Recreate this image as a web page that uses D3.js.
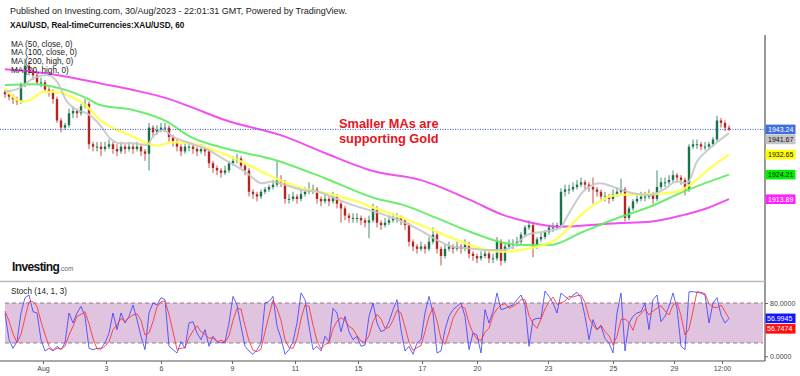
<!DOCTYPE html>
<html>
<head>
<meta charset="utf-8">
<script src="https://cdn.jsdelivr.net/npm/d3@7"></script>
<style>
  body { margin: 0; background: #fff; }
  svg { display: block; font-family: Arial, "Liberation Sans", sans-serif; }
</style>
</head>
<body>
<div id="chart"></div>
<script>
// ── Data (XAU/USD, 60 min, ~4 px per candle) ─────────────────────────────────
const FIRST_OPEN = 1959;

const closes = [
  1958,1957,1956,1955,1962,1970,1968,1966,1963,1963,
  1960,1959,1956,1947,1944,1945,1950,1951,1950,1953,
  1954,1937,1936,1936,1935,1936,1937,1935,1934,1936,
  1935,1936,1935,1936,1934,1933,1944,1942,1943,1944,
  1944,1940,1938,1936,1934,1936,1936,1935,1934,1935,
  1934,1929,1927,1926,1925,1926,1929,1930,1931,1928,
  1926,1917,1916,1915,1917,1918,1919,1920,1922,1921,
  1914,1914,1915,1914,1916,1917,1918,1918,1914,1913,
  1914,1913,1915,1912,1910,1907,1906,1906,1906,1905,
  1904,1905,1910,1904,1903,1904,1905,1906,1906,1905,
  1903,1896,1894,1893,1894,1893,1896,1899,1893,1890,
  1893,1894,1893,1894,1893,1895,1891,1890,1889,1890,
  1891,1889,1889,1896,1888,1894,1895,1895,1896,1899,
  1902,1903,1894,1897,1898,1900,1902,1902,1903,1917,
  1918,1918,1919,1920,1921,1920,1919,1918,1917,1915,
  1915,1914,1916,1917,1918,1906,1910,1913,1914,1915,
  1915,1916,1914,1919,1921,1921,1922,1924,1923,1922,
  1918,1936,1937,1937,1936,1936,1937,1939,1947,1946,
  1944,1943.24
];

const highs = [
  1960,1959,1958,1957,1963,1973,1972,1969,1967,1965,
  1964,1961,1960,1957,1948,1946,1952,1953,1952,1954,
  1956,1955,1938,1938,1938,1938,1939,1938,1937,1938,
  1937,1938,1937,1938,1937,1935,1946,1945,1945,1946,
  1946,1945,1941,1939,1937,1938,1938,1937,1936,1937,
  1936,1935,1930,1928,1927,1928,1930,1932,1933,1932,
  1929,1927,1918,1917,1918,1919,1920,1922,1930,1924,
  1922,1916,1917,1916,1918,1919,1921,1920,1919,1915,
  1916,1915,1917,1916,1913,1911,1908,1908,1908,1907,
  1906,1907,1912,1911,1905,1906,1907,1908,1908,1907,
  1906,1904,1897,1895,1896,1895,1898,1902,1900,1894,
  1895,1896,1895,1896,1895,1897,1896,1892,1891,1892,
  1893,1892,1891,1898,1897,1895,1897,1897,1898,1900,
  1903,1905,1904,1898,1900,1901,1903,1904,1904,1918.5,
  1920,1920,1921,1922,1923,1922,1921,1923,1919,1918,
  1917,1916,1918,1919,1922.5,1919,1911,1914,1916,1917,
  1917,1918,1917,1926,1923,1923,1924,1926,1925,1924,
  1923,1937,1939,1939,1938,1938,1938,1940,1949,1948,
  1947,1945
];

const lows = [
  1956.5,1955.5,1954,1953.5,1954,1961,1966,1964,1962,1961,
  1959,1957,1954,1946,1942,1943,1944,1948,1948,1949,
  1952,1935,1934,1934,1932,1934,1935,1933,1932,1933,
  1933,1934,1933,1934,1932,1930,1926,1940,1941,1942,
  1942,1938,1936,1934,1932,1933,1934,1933,1932,1933,
  1932,1927,1925,1924,1923,1924,1925,1928,1929,1927,
  1924,1915,1914,1913,1914,1916,1917,1918,1919,1919,
  1912,1912,1913,1912,1913,1915,1916,1916,1912,1911,
  1912,1911,1912,1910,1904,1905,1904,1904,1904,1903,
  1902,1897.5,1904,1902,1901,1902,1903,1904,1904,1903,
  1901,1894,1892,1891,1892,1891,1892,1895,1891,1886,
  1889,1892,1891,1892,1891,1892,1889,1888,1887,1888,
  1889,1887,1887,1888,1886,1887,1893,1893,1894,1895,
  1898,1901,1889.5,1893,1896,1897,1899,1900,1901,1902,
  1915,1916,1917,1918,1919,1918,1917,1912,1915,1913,
  1913,1912,1913,1915,1916,1904.5,1905,1909,1912,1913,
  1913,1914,1912,1913,1918,1919,1920,1921,1921,1920,
  1915.5,1917,1935,1935,1934.5,1934.5,1935,1936,1938,1944,
  1942.5,1942.5
];

// moving averages as [candle index, price]
const ma20 = [
  [0,1959.1],[3.75,1960.7],[7,1964.7],[10.5,1966.1],[13,1963.3],[15.5,1954.9],
  [18,1951.4],[20.5,1950.0],[23.75,1945.1],[26.25,1939.5],[28.75,1937.4],[32,1937.4],
  [35.5,1936.7],[37,1940.2],[39.5,1943.0],[42,1940.2],[46.25,1937.4],[50,1935.3],
  [55,1930.4],[60,1925.5],[64.25,1920.6],[66.75,1921.3],[70,1919.9],[74.25,1917.8],
  [78.25,1917.0],[82.5,1914.3],[86.75,1911.5],[92.5,1908.6],[96.25,1906.5],[99.5,1904.4],
  [103.75,1900.9],[108,1896.7],[112,1893.9],[116.25,1893.2],[120.5,1892.5],[124.5,1892.5],
  [127,1893.9],[130.5,1898.8],[134.5,1900.2],[138.75,1901.7],[140.5,1906.5],[144.5,1917.0],
  [148.75,1920.6],[153,1918.5],[157,1916.4],[161.25,1915.7],[164.5,1917.8],[168,1921.3],
  [170.5,1920.6],[173,1929.7],[176.25,1935.3],[181,1941.67]
];

const ma50 = [
  [0,1960.5],[4.5,1954.9],[7,1956.3],[9.5,1959.1],[12,1959.1],[15.5,1957.7],
  [20.5,1952.8],[23.75,1947.2],[28,1943.0],[32,1940.2],[35.5,1937.4],[38,1936.4],
  [42,1937.8],[46.25,1937.4],[53.25,1933.9],[61.75,1927.6],[67.5,1922.7],[74.25,1918.5],
  [80,1916.4],[86.75,1913.6],[92.5,1910.1],[99.5,1905.9],[108,1900.2],[116.25,1894.6],
  [120.5,1892.5],[124.5,1891.8],[128.75,1892.5],[133,1893.9],[137.5,1896.7],[144.5,1908.0],
  [153,1915.7],[161.25,1916.0],[168,1917.0],[171.25,1919.9],[176.25,1926.9],[181,1932.65]
];

const ma100 = [
  [0,1961.9],[7,1962.2],[13.75,1960.5],[20.5,1956.3],[23.75,1953.5],[32,1951.4],
  [40.5,1946.5],[46.25,1940.2],[55,1935.3],[67.5,1930.4],[80,1922.7],[92.5,1914.3],
  [99.5,1911.5],[108,1905.9],[116.25,1900.2],[124.5,1895.6],[128.75,1894.6],[136.25,1894.6],
  [144.5,1900.2],[153,1905.9],[161.25,1910.7],[169.5,1917.0],[181,1924.21]
];

const ma200 = [
  [0,1968.5],[7,1967.5],[15.5,1965.4],[23.75,1962.6],[32,1959.8],[40.5,1956.3],
  [46.25,1952.8],[55,1947.2],[70,1940.2],[80,1933.3],[92.5,1925.5],[103.75,1922.0],
  [116.25,1913.6],[124.5,1907.3],[130.5,1904.4],[138.75,1902.3],[153,1903.8],[161.25,1904.4],
  [169.5,1907.2],[175.5,1910.1],[181,1913.89]
];

const stochK = [
  65,25,12,22,65,88,92,67,65,25,
  8,12,8,15,10,20,65,50,65,75,
  60,12,10,12,12,20,35,65,40,65,
  50,60,77,55,30,10,65,80,77,88,
  85,15,10,5,22,12,50,52,35,25,
  40,15,30,22,20,22,50,90,77,45,
  15,8,3,10,20,80,82,90,45,27,
  3,10,22,50,95,85,45,10,15,8,
  30,22,72,65,37,60,37,25,30,15,
  17,60,80,50,37,40,52,70,85,40,
  8,15,3,20,25,65,90,65,5,8,
  40,60,70,75,80,60,10,35,32,5,
  70,50,67,95,70,72,75,77,85,92,
  77,15,55,57,57,98,90,80,65,95,
  90,85,92,96,88,60,25,55,40,45,
  27,20,5,65,95,8,50,60,65,67,
  80,40,85,92,52,60,75,95,72,15,
  10,97,97,96,95,92,50,80,88,62,
  50,56.9945
];

const stochD = [
  68,53,34,20,33,58,82,82,75,52,
  33,15,9,12,11,15,32,45,60,63,
  67,49,27,11,11,15,22,40,47,57,
  52,58,62,64,54,32,35,52,74,82,
  83,63,37,10,12,13,28,38,46,37,
  33,27,28,22,24,21,31,54,72,71,
  46,23,9,7,11,37,61,84,72,54,
  25,13,12,27,56,77,75,47,23,11,
  18,20,41,53,58,54,45,41,31,23,
  21,31,52,63,56,42,43,54,69,65,
  44,21,9,13,16,37,60,73,53,26,
  18,36,57,68,75,72,50,35,26,24,
  36,42,62,71,77,79,72,75,79,85,
  85,61,49,42,56,71,82,89,78,80,
  83,90,89,91,92,81,58,47,40,47,
  37,31,17,30,55,56,51,39,58,64,
  71,62,68,72,76,68,62,77,81,61,
  32,41,68,97,96,94,79,74,73,77,
  67,56.7474
];

const priceTicks = [1880,1890,1900,1910,1920,1930,1940,1950,1960,1970,1980];
const stochTicks = [0,80];
const dateTickIdx = [9.5,25.25,39,56.75,72.5,88.25,104.25,118,135.75,152,167.25,179.25];
const dateTickLabels = ["Aug","3","6","9","11","15","17","20","23","25","29","12:00"];

const legendLabels = ["MA (50, close, 0)","MA (100, close, 0)","MA (200, high, 0)","MA (20, high, 0)"];

// ── Layout ────────────────────────────────────────────────────────────────
const W = 800, H = 376;
const AXIS_X = 765;
const MAIN_TOP = 35, MAIN_BOT = 281.5;
const STOCH_BOT = 361;
const TAG_H = 9.6;
const UP = "#18724a", DOWN = "#b3261e";

const svg = d3.select("#chart").append("svg").attr("width", W).attr("height", H);

const x = d3.scaleLinear().domain([0, closes.length - 1]).range([5, 729]);
const y = d3.scaleLinear().domain([1890, 1980]).range([256, 42]);
const ys = d3.scaleLinear().domain([0, 100]).range([356.3, 289.7]);

const defs = svg.append("defs");
defs.append("clipPath").attr("id", "mainClip")
  .append("rect").attr("x", 0).attr("y", MAIN_TOP).attr("width", AXIS_X).attr("height", MAIN_BOT - MAIN_TOP);
defs.append("clipPath").attr("id", "axisClip")
  .append("rect").attr("x", AXIS_X).attr("y", MAIN_TOP).attr("width", W - AXIS_X).attr("height", MAIN_BOT - MAIN_TOP);

// ── Header ───────────────────────────────────────────────────────────────
svg.append("text").attr("x", 10).attr("y", 14)
  .style("font-size", "9px").style("fill", "#222")
  .text("Published on Investing.com, 30/Aug/2023 - 22:01:31 GMT, Powered by TradingView.");
svg.append("text").attr("x", 10).attr("y", 28)
  .style("font-size", "8.2px").style("font-weight", "bold").style("fill", "#111")
  .text("XAU/USD, Real-timeCurrencies:XAU/USD, 60");

// ── Main panel ─────────────────────────────────────────────────────────────
const main = svg.append("g").attr("clip-path", "url(#mainClip)");

const candles = closes.map((c, i) => ({
  i, o: i ? closes[i - 1] : FIRST_OPEN, c, h: highs[i], l: lows[i]
}));

const cg = main.append("g");
cg.selectAll("line").data(candles).join("line")
  .attr("x1", d => x(d.i)).attr("x2", d => x(d.i))
  .attr("y1", d => y(d.h)).attr("y2", d => y(d.l))
  .attr("stroke", d => d.c >= d.o ? UP : DOWN)
  .attr("stroke-width", 0.8);
cg.selectAll("rect").data(candles).join("rect")
  .attr("x", d => x(d.i) - 1.2).attr("width", 2.4)
  .attr("y", d => y(Math.max(d.o, d.c)))
  .attr("height", d => Math.max(1, Math.abs(y(d.o) - y(d.c))))
  .attr("fill", d => d.c >= d.o ? UP : DOWN);

const line = d3.line().x(d => x(d[0])).y(d => y(d[1])).curve(d3.curveMonotoneX);
const maSeries = [
  { data: ma200, color: "#f03cf0", w: 2 },
  { data: ma100, color: "#5cec5c", w: 2 },
  { data: ma50, color: "#ffff50", w: 2.5 },
  { data: ma20, color: "#c6c6c6", w: 2 }
];
maSeries.forEach(s => {
  main.append("path").attr("d", line(s.data))
    .attr("fill", "none").attr("stroke", s.color).attr("stroke-width", s.w)
    .attr("stroke-opacity", 0.9);
});

// last price dotted line
const last = closes[closes.length - 1];
svg.append("line").attr("x1", 0).attr("x2", AXIS_X)
  .attr("y1", y(last)).attr("y2", y(last))
  .attr("stroke", "#3b5bdb").attr("stroke-width", 1).attr("stroke-dasharray", "1,1.5");

// legend
legendLabels.forEach((t, k) => {
  svg.append("text").attr("x", 11).attr("y", 46.7 + k * 8.7)
    .style("font-size", "8.2px").style("fill", "#222").text(t);
});

// annotation
const note = svg.append("text").attr("x", 339).attr("y", 127.5)
  .style("font-size", "12.8px").style("font-weight", "bold").style("fill", "#e8141c");
note.append("tspan").attr("x", 339).text("Smaller MAs are");
note.append("tspan").attr("x", 339).attr("dy", 15).text("supporting Gold");

// Investing.com logo
const logo = svg.append("text").attr("x", 12).attr("y", 271);
logo.append("tspan").style("font-size", "12px").style("font-weight", "bold")
  .style("fill", "#111").style("letter-spacing", "-0.6px").text("Investing");
logo.append("tspan").style("font-size", "6.5px").style("fill", "#666").text(".com");

// ── Price tags (placed first so axis labels under them can be dropped) ──────
const tags = [
  { v: last, bg: "#3f6ee0", fg: "#fff" },
  { v: ma20[ma20.length - 1][1], bg: "#c4c4c4", fg: "#111" },
  { v: ma50[ma50.length - 1][1], bg: "#ffff00", fg: "#111" },
  { v: ma100[ma100.length - 1][1], bg: "#00f000", fg: "#111" },
  { v: ma200[ma200.length - 1][1], bg: "#ff22ff", fg: "#fff" }
].sort((a, b) => b.v - a.v);
let prevY = -Infinity;
tags.forEach(t => {
  t.cy = Math.max(y(t.v), prevY + 10);
  prevY = t.cy;
});

// ── Right price axis ──────────────────────────────────────────────────────
const visibleTicks = priceTicks.filter(v => tags.every(t => Math.abs(y(v) - t.cy) > 8));
const yAxis = svg.append("g").attr("transform", `translate(${AXIS_X},0)`)
  .attr("clip-path", "url(#axisClip)")
  .call(d3.axisRight(y).tickValues(visibleTicks).tickFormat(d3.format(".2f")).tickSize(3).tickPadding(2));
yAxis.select(".domain").remove();
yAxis.selectAll("line").attr("stroke", "#666");
yAxis.selectAll("text").style("font-size", "7px").style("fill", "#444").attr("font-family", null);

svg.append("line").attr("x1", AXIS_X).attr("x2", AXIS_X)
  .attr("y1", MAIN_TOP).attr("y2", STOCH_BOT).attr("stroke", "#555").attr("stroke-width", 1.2);

// panel separator
svg.append("line").attr("x1", 0).attr("x2", AXIS_X)
  .attr("y1", MAIN_BOT).attr("y2", MAIN_BOT).attr("stroke", "#bbb").attr("stroke-width", 1.5);

tags.forEach(t => {
  const g = svg.append("g").attr("transform", `translate(${AXIS_X},${t.cy})`);
  g.append("rect").attr("x", 0.5).attr("y", -TAG_H / 2).attr("width", 30).attr("height", TAG_H).attr("fill", t.bg);
  g.append("text").attr("x", 3).attr("y", 2.6)
    .style("font-size", "7px").style("fill", t.fg).text(d3.format(".2f")(t.v));
});

// ── Stochastic panel ──────────────────────────────────────────────────────
svg.append("text").attr("x", 11).attr("y", 294)
  .style("font-size", "8.2px").style("fill", "#222").text("Stoch (14, 1, 3)");

svg.append("rect").attr("x", 5).attr("width", AXIS_X - 7)
  .attr("y", ys(80)).attr("height", ys(20) - ys(80)).attr("fill", "#dfc3df");
[80, 20].forEach(v => {
  svg.append("line").attr("x1", 5).attr("x2", AXIS_X - 2)
    .attr("y1", ys(v)).attr("y2", ys(v))
    .attr("stroke", "#8d7d8d").attr("stroke-width", 1).attr("stroke-dasharray", "4,3");
});

const sline = d3.line().x((d, i) => x(i)).y(d => ys(d));
svg.append("path").attr("d", sline(stochK)).attr("fill", "none")
  .attr("stroke", "#3b3bff").attr("stroke-width", 1).attr("stroke-opacity", 0.8);
svg.append("path").attr("d", sline(stochD)).attr("fill", "none")
  .attr("stroke", "#ff3030").attr("stroke-width", 1).attr("stroke-opacity", 0.85);

const sAxis = svg.append("g").attr("transform", `translate(${AXIS_X},0)`)
  .call(d3.axisRight(ys).tickValues(stochTicks).tickFormat(d3.format(".4f")).tickSize(3).tickPadding(2));
sAxis.select(".domain").remove();
sAxis.selectAll("line").attr("stroke", "#666");
sAxis.selectAll("text").style("font-size", "7px").style("fill", "#444").attr("font-family", null);

const sTags = [
  { v: stochK[stochK.length - 1], bg: "#1515ff" },
  { v: stochD[stochD.length - 1], bg: "#ff1010" }
];
let prevS = -Infinity;
sTags.forEach(t => {
  const cy = Math.max(ys(t.v), prevS + 10.5);
  prevS = cy;
  const g = svg.append("g").attr("transform", `translate(${AXIS_X},${cy})`);
  g.append("rect").attr("x", 0.5).attr("y", -TAG_H / 2).attr("width", 30).attr("height", TAG_H).attr("fill", t.bg);
  g.append("text").attr("x", 2).attr("y", 2.6)
    .style("font-size", "7px").style("fill", "#fff").text(d3.format(".4f")(t.v));
});

// ── Bottom time axis ──────────────────────────────────────────────────────
svg.append("line").attr("x1", 0).attr("x2", AXIS_X)
  .attr("y1", STOCH_BOT).attr("y2", STOCH_BOT).attr("stroke", "#555").attr("stroke-width", 1.2);
const xAxis = svg.append("g").attr("transform", `translate(0,${STOCH_BOT})`)
  .call(d3.axisBottom(x).tickValues(dateTickIdx).tickFormat((d, i) => dateTickLabels[i]).tickSize(3).tickPadding(2));
xAxis.select(".domain").remove();
xAxis.selectAll("line").attr("stroke", "#666");
xAxis.selectAll("text").style("font-size", "7px").style("fill", "#444").attr("font-family", null);
</script>
</body>
</html>
